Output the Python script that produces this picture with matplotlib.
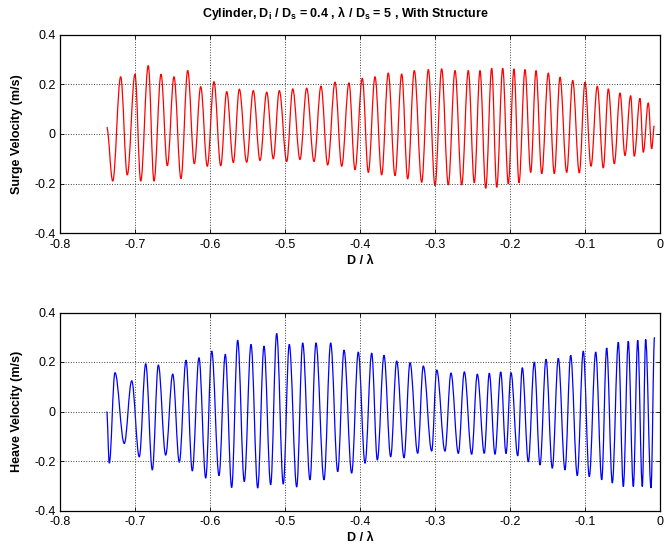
import matplotlib
matplotlib.use("Agg")
import matplotlib.pyplot as plt
from matplotlib.path import Path
from matplotlib.patches import PathPatch
import numpy as np

plt.rcParams['font.family'] = ['Liberation Sans', 'DejaVu Sans']
plt.rcParams['axes.unicode_minus'] = False

# Surge velocity: successive extremes (D/lambda, m/s)
surge_x = [-0.7377, -0.7297, -0.7191, -0.7103, -0.7000, -0.6924, -0.6823, -0.6747,
           -0.6653, -0.6569, -0.6480, -0.6387, -0.6297, -0.6209, -0.6124, -0.6036,
           -0.5947, -0.5857, -0.5777, -0.5689, -0.5609, -0.5511, -0.5423, -0.5333,
           -0.5244, -0.5156, -0.5076, -0.4977, -0.4897, -0.4800, -0.4711, -0.4613,
           -0.4520, -0.4431, -0.4333, -0.4244, -0.4147, -0.4067, -0.3969, -0.3889,
           -0.3800, -0.3711, -0.3623, -0.3533, -0.3444, -0.3364, -0.3276, -0.3177,
           -0.3089, -0.3000, -0.2911, -0.2823, -0.2733, -0.2644, -0.2556, -0.2476,
           -0.2400, -0.2324, -0.2244, -0.2177, -0.2097, -0.2023, -0.1947, -0.1880,
           -0.1800, -0.1724, -0.1653, -0.1577, -0.1489, -0.1409, -0.1333, -0.1244,
           -0.1164, -0.1076, -0.1000, -0.0920, -0.0836, -0.0756, -0.0689, -0.0609,
           -0.0533, -0.0467, -0.0391, -0.0343, -0.0267, -0.0223, -0.0156, -0.0111,
           -0.0076]
surge_v = [0.027, -0.190, 0.230, -0.165, 0.240, -0.190, 0.275, -0.190,
           0.240, -0.128, 0.230, -0.180, 0.255, -0.120, 0.190, -0.130,
           0.210, -0.128, 0.170, -0.115, 0.180, -0.114, 0.174, -0.107,
           0.168, -0.100, 0.174, -0.111, 0.181, -0.103, 0.184, -0.111,
           0.192, -0.125, 0.208, -0.130, 0.205, -0.144, 0.224, -0.155,
           0.230, -0.165, 0.245, -0.168, 0.241, -0.181, 0.255, -0.195,
           0.259, -0.208, 0.262, -0.205, 0.255, -0.205, 0.255, -0.197,
           0.255, -0.219, 0.264, -0.215, 0.264, -0.201, 0.262, -0.197,
           0.259, -0.155, 0.255, -0.160, 0.245, -0.160, 0.228, -0.155,
           0.215, -0.157, 0.208, -0.130, 0.192, -0.137, 0.181, -0.120,
           0.165, -0.087, 0.154, -0.090, 0.143, -0.074, 0.125, -0.060,
           0.033]

# Heave velocity: successive extremes (D/lambda, m/s)
heave_x = [-0.7377, -0.7343, -0.7267, -0.7143, -0.7044, -0.6943, -0.6857, -0.6769,
           -0.6689, -0.6591, -0.6497, -0.6409, -0.6320, -0.6236, -0.6147, -0.6057,
           -0.5977, -0.5880, -0.5796, -0.5711, -0.5631, -0.5543, -0.5453, -0.5364,
           -0.5280, -0.5191, -0.5111, -0.5023, -0.4943, -0.4844, -0.4764, -0.4667,
           -0.4587, -0.4480, -0.4391, -0.4297, -0.4213, -0.4111, -0.4023, -0.3933,
           -0.3844, -0.3769, -0.3680, -0.3591, -0.3511, -0.3413, -0.3333, -0.3231,
           -0.3156, -0.3044, -0.2977, -0.2867, -0.2787, -0.2689, -0.2609, -0.2511,
           -0.2436, -0.2343, -0.2276, -0.2200, -0.2124, -0.2053, -0.1987, -0.1897,
           -0.1836, -0.1756, -0.1676, -0.1600, -0.1520, -0.1436, -0.1356, -0.1267,
           -0.1191, -0.1103, -0.1023, -0.0943, -0.0857, -0.0777, -0.0711, -0.0636,
           -0.0556, -0.0489, -0.0423, -0.0356, -0.0297, -0.0236, -0.0191, -0.0120,
           -0.0073]
heave_v = [0.000, -0.209, 0.157, -0.129, 0.124, -0.183, 0.193, -0.236,
           0.188, -0.176, 0.151, -0.205, 0.207, -0.240, 0.217, -0.269,
           0.244, -0.259, 0.231, -0.307, 0.288, -0.283, 0.271, -0.309,
           0.264, -0.296, 0.315, -0.293, 0.271, -0.305, 0.277, -0.276,
           0.277, -0.276, 0.277, -0.243, 0.248, -0.249, 0.240, -0.209,
           0.236, -0.196, 0.227, -0.183, 0.204, -0.187, 0.197, -0.169,
           0.184, -0.160, 0.168, -0.160, 0.155, -0.169, 0.160, -0.173,
           0.151, -0.169, 0.155, -0.173, 0.160, -0.170, 0.157, -0.179,
           0.177, -0.203, 0.200, -0.216, 0.211, -0.229, 0.215, -0.236,
           0.227, -0.259, 0.244, -0.263, 0.240, -0.276, 0.257, -0.289,
           0.280, -0.303, 0.284, -0.303, 0.288, -0.303, 0.291, -0.309,
           0.300]

x_ticks = [-0.8, -0.7, -0.6, -0.5, -0.4, -0.3, -0.2, -0.1, 0.0]
x_tick_labels = ['-0.8', '-0.7', '-0.6', '-0.5', '-0.4', '-0.3', '-0.2', '-0.1', '0']
y_ticks = [-0.4, -0.2, 0.0, 0.2, 0.4]
y_tick_labels = ['-0.4', '-0.2', '0', '0.2', '0.4']

W, H = 667, 552
fig = plt.figure(figsize=(W / 100, H / 100), dpi=100)


def px_axes(left, top, right, bottom):
    return fig.add_axes([left / W, 1 - bottom / H, (right - left) / W, (bottom - top) / H])


def wave_path(xs, ys):
    """Smooth curve through successive extremes, flat at each turning point."""
    k = 1 - 2 / np.pi
    verts = [(xs[0], ys[0])]
    codes = [Path.MOVETO]
    for x0, y0, x1, y1 in zip(xs[:-1], ys[:-1], xs[1:], ys[1:]):
        dx = x1 - x0
        verts += [(x0 + k * dx, y0), (x1 - k * dx, y1), (x1, y1)]
        codes += [Path.CURVE4] * 3
    return Path(verts, codes)


ax1 = px_axes(60, 34.5, 660, 233.3)
ax2 = px_axes(60, 312.5, 660, 510.5)

for ax, xs, ys, col, ylab in [(ax1, surge_x, surge_v, 'r', 'Surge Velocity (m/s)'),
                              (ax2, heave_x, heave_v, 'b', 'Heave Velocity (m/s)')]:
    ax.add_patch(PathPatch(wave_path(xs, ys), facecolor='none', edgecolor=col, lw=0.9))
    ax.set_xlim(-0.8, 0.0)
    ax.set_ylim(-0.4, 0.4)
    ax.set_xticks(x_ticks)
    ax.set_xticklabels(x_tick_labels)
    ax.set_yticks(y_ticks)
    ax.set_yticklabels(y_tick_labels)
    ax.tick_params(direction='in', length=3, width=0.6, top=True, right=True,
                   labelsize=9, colors='black')
    ax.tick_params(axis='x', pad=4)
    ax.tick_params(axis='y', pad=3)
    ax.grid(True, linestyle=':', color='0.25', linewidth=0.7)
    for s in ax.spines.values():
        s.set_linewidth(0.9)
        s.set_color('black')
    ax.set_xlabel('D / λ', fontsize=9, fontweight='bold', labelpad=3)
    ax.set_ylabel(ylab, fontsize=9, fontweight='bold', labelpad=8)

fig.text(345 / W, 1 - 13 / H,
         r'Cylinder, D$_\mathregular{i}$ / D$_\mathregular{s}$ = 0.4 , λ / D$_\mathregular{s}$ = 5 , With Structure',
         ha='center', va='center', fontsize=9, fontweight='bold')

fig.savefig('out.png', dpi=100)
